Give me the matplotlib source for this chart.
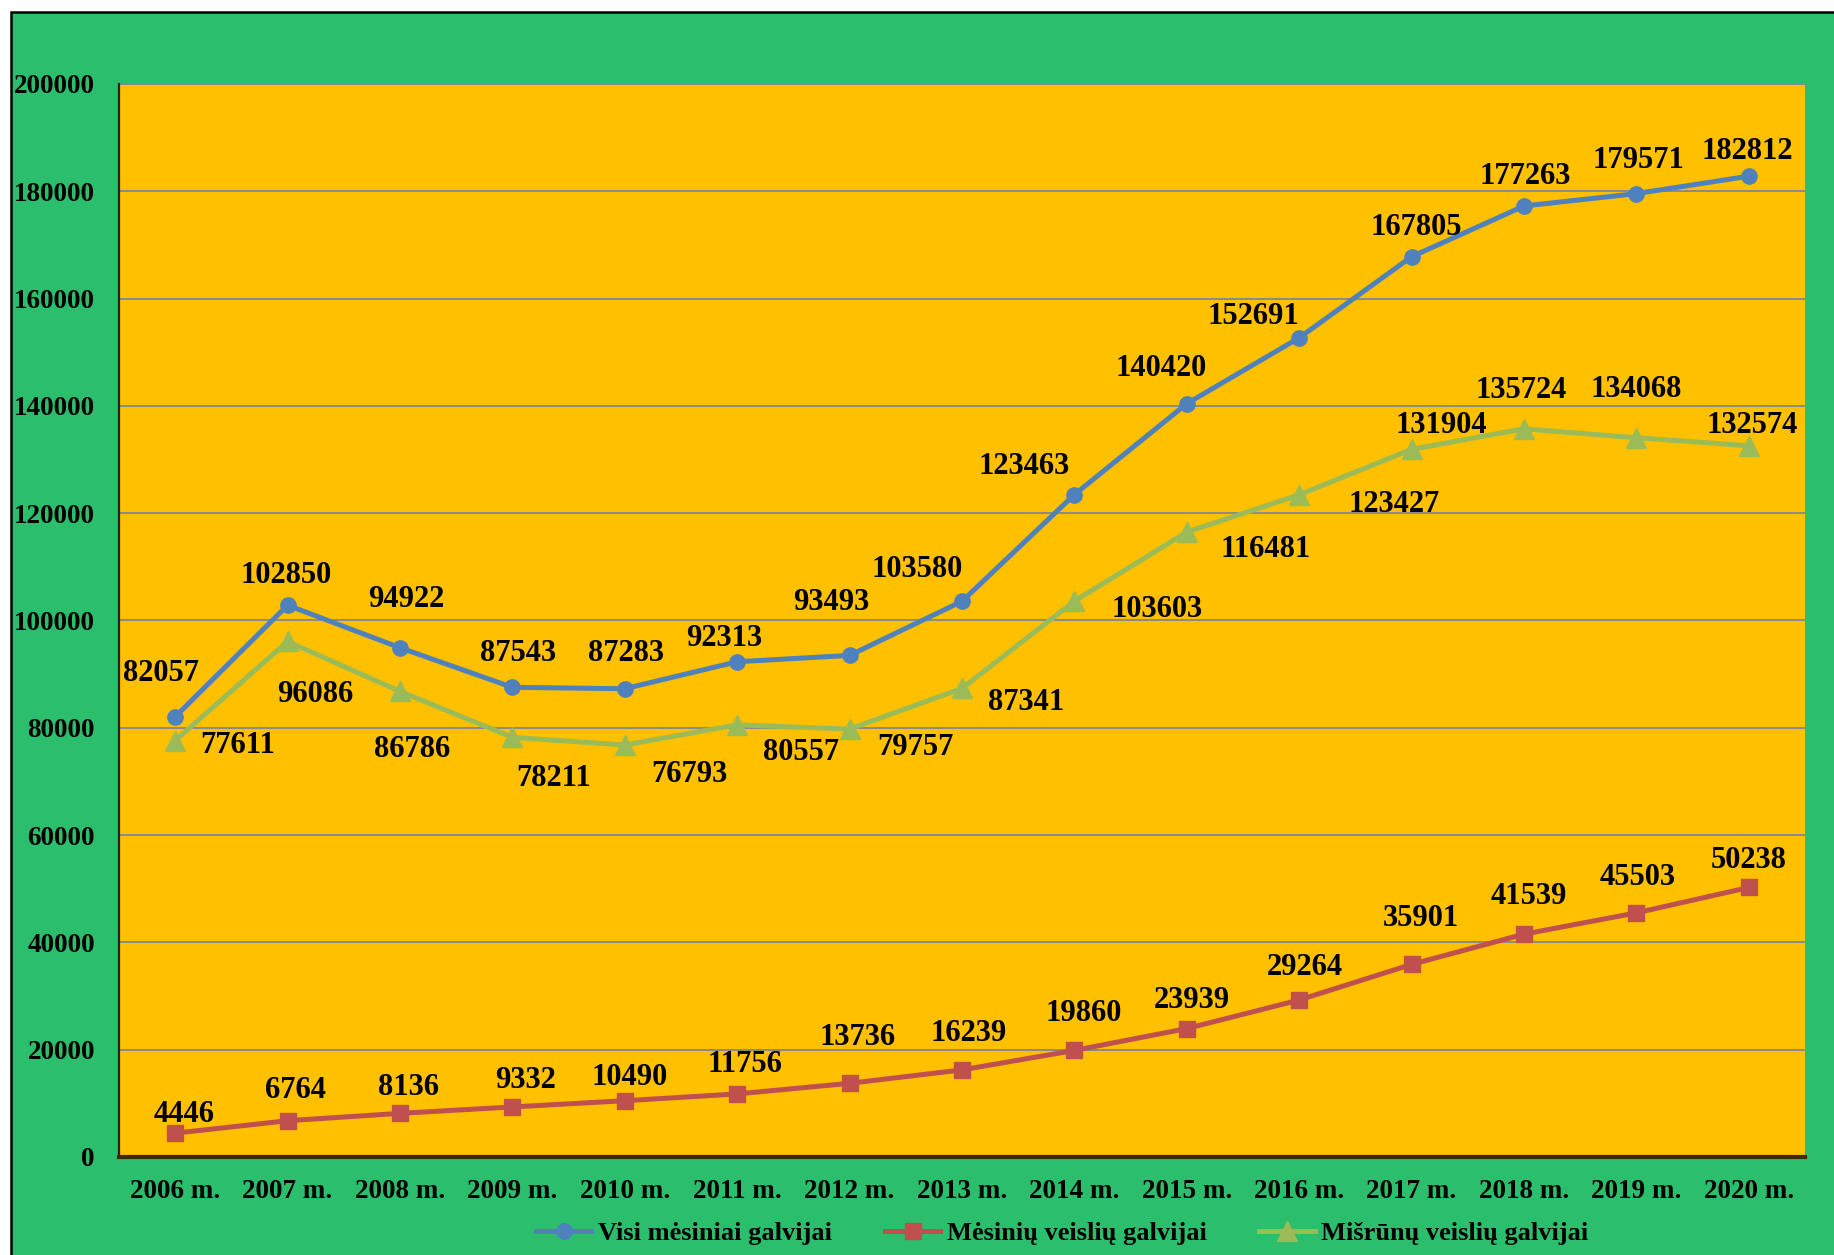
import matplotlib
matplotlib.use('Agg')
import matplotlib.pyplot as plt
from matplotlib.patches import Rectangle

# metai
years = ['2006 m.', '2007 m.', '2008 m.', '2009 m.', '2010 m.', '2011 m.', '2012 m.',
         '2013 m.', '2014 m.', '2015 m.', '2016 m.', '2017 m.', '2018 m.', '2019 m.', '2020 m.']

visi = [82057, 102850, 94922, 87543, 87283, 92313, 93493, 103580, 123463, 140420,
        152691, 167805, 177263, 179571, 182812]
mesiniu = [4446, 6764, 8136, 9332, 10490, 11756, 13736, 16239, 19860, 23939,
           29264, 35901, 41539, 45503, 50238]
misrunu = [77611, 96086, 86786, 78211, 76793, 80557, 79757, 87341, 103603, 116481,
           123427, 131904, 135724, 134068, 132574]

series_names = ['Visi mėsiniai galvijai', 'Mėsinių veislių galvijai', 'Mišrūnų veislių galvijai']

# kur dėti reikšmių užrašus (poslinkis nuo taško, px)
off_visi = [(-12, -41), (-1, -29), (5, -45), (5, -33), (1, -34), (-11, -24), (-16, -49),
            (-38, -31), (-43, -28), (-22, -34), (-39, -22), (4, -29), (1, -29), (2, -32), (-1, -25)]
off_mes = [(8, -20), (7, -30), (7, -26), (11, -27), (4, -24), (7, -29), (7, -43), (6, -35),
           (8, -36), (4, -28), (5, -32), (8, -43), (4, -36), (1, -34), (0, -27)]
off_mis = [(53, 0), (24, 41), (10, 46), (35, 31), (55, 21), (55, 20), (56, 12), (55, 8),
           (71, 3), (67, 11), (81, 4), (25, -24), (-2, -37), (0, -45), (3, -21)]

plt.rcParams['font.family'] = ['Liberation Serif', 'DejaVu Serif']
plt.rcParams['font.weight'] = 'bold'

W, H = 1834, 1255
fig = plt.figure(figsize=(W / 100, H / 100), dpi=100)
fig.patch.set_facecolor('white')

# žalias fonas su juodu kraštu
fig.patches.append(Rectangle((11 / W, -0.05), 1.1, 1 - 12 / H + 0.05, transform=fig.transFigure,
                             facecolor='#2BBE6C', edgecolor='black', linewidth=1.8, zorder=-5))

ax = fig.add_axes([119 / W, 1 - 1157 / H, (1805 - 119) / W, (1157 - 84) / H])
ax.set_zorder(2)
ax.set_facecolor('#FFC000')

x = [i + 0.5 for i in range(len(years))]

ax.plot(x, visi, color='#4F81BD', lw=3.6, marker='o', ms=11, label=series_names[0], zorder=4)
ax.plot(x, mesiniu, color='#C0504D', lw=3.6, marker='s', ms=12, label=series_names[1], zorder=4)
ax.plot(x, misrunu, color='#9BBB59', lw=3.6, marker='^', ms=14, label=series_names[2], zorder=3)

k = 1.1696 * 0.72
for vals, offs in [(visi, off_visi), (mesiniu, off_mes), (misrunu, off_mis)]:
    for xi, v, (dx, dy) in zip(x, vals, offs):
        ax.annotate(str(v), (xi, v), xytext=(dx * k, -(dy + 4) * k), textcoords='offset points',
                    ha='center', va='center', fontsize=22, fontweight='bold', color='black', zorder=5)

ax.set_xlim(0, len(years))
ax.set_ylim(0, 200000)
ax.set_yticks(range(0, 200001, 20000))
ax.set_xticks(x)
ax.set_xticklabels(years)

ax.grid(axis='y', color='#8a8a8a', lw=1.4, zorder=1)
ax.set_axisbelow(True)

for s in ['top', 'right']:
    ax.spines[s].set_visible(False)
ax.spines['left'].set_color('#222222')
ax.spines['left'].set_linewidth(1.6)
ax.spines['bottom'].set_color('#3a2a00')
ax.spines['bottom'].set_linewidth(3)

ax.tick_params(axis='y', length=0, pad=(119 - 95) * 0.72, labelsize=19.5)
ax.tick_params(axis='x', length=0, pad=16, labelsize=19.5)
for t in ax.get_yticklabels():
    t.set_fontweight('bold')
for t in ax.get_xticklabels():
    t.set_fontweight('bold')

leg = fig.legend(loc='center left', bbox_to_anchor=(536 / W, 1 - 1233 / H), ncol=3,
                 frameon=False, fontsize=19, handlelength=2.1, handletextpad=0.25,
                 columnspacing=2.0, borderpad=0, borderaxespad=0)
for t in leg.get_texts():
    t.set_fontweight('bold')

fig.savefig('out.png', dpi=100)
